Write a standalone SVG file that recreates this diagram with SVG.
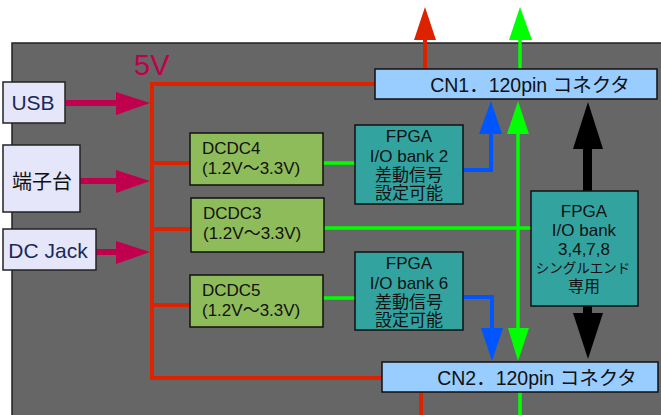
<svg xmlns="http://www.w3.org/2000/svg" width="661" height="415" viewBox="0 0 661 415">
<defs>
<style>
.t{font-family:"Liberation Sans","Noto Sans CJK JP",sans-serif;fill:#111}
.src{fill:#e6e6fa;stroke:#222;stroke-width:1.5}
.dc{fill:#8fbc5a;stroke:#111;stroke-width:1.5}
.fp{fill:#33a3a0;stroke:#111;stroke-width:1.5}
.cn{fill:#99ccff;stroke:#111;stroke-width:1.5}
.red{stroke:#dd2200;stroke-width:4;fill:none}
.grn{stroke:#00ff00;stroke-width:3.5;fill:none}
.blu{stroke:#0055ff;stroke-width:4;fill:none}
</style>
</defs>
<rect x="0" y="0" width="661" height="415" fill="#ffffff"/>
<rect x="12" y="43" width="652" height="375" fill="#666666" stroke="#222" stroke-width="1.5"/>
<text x="134" y="75" class="t" style="fill:#c0004c;font-size:29px">5V</text>
<g id="connectors">
<polyline class="red" points="375,84 152,84 152,378 382,378"/>
<line class="red" x1="152" y1="163" x2="190" y2="163"/>
<line class="red" x1="152" y1="229" x2="191" y2="229"/>
<line class="red" x1="152" y1="305" x2="190" y2="305"/>
<line class="red" x1="425" y1="69" x2="425" y2="38"/>
<polygon points="414,40 436,40 425,7" fill="#dd2200"/>
<line class="red" x1="421" y1="392" x2="421" y2="415"/>
<g fill="#c0004c">
<rect x="66" y="100" width="52" height="6"/>
<polygon points="116,92 150,103 116,115"/>
<rect x="80" y="178" width="38" height="6"/>
<polygon points="116,170 150,181 116,193"/>
<rect x="96" y="249" width="22" height="6"/>
<polygon points="116,241 150,252 116,264"/>
</g>
<line class="grn" x1="520" y1="38" x2="520" y2="69"/>
<polygon points="509,40 532,40 520,7" fill="#00ff00"/>
<line class="grn" x1="518" y1="132" x2="518" y2="330"/>
<polygon points="507,134 529,134 518,101" fill="#00ff00"/>
<polygon points="508,328 529,328 518,361" fill="#00ff00"/>
<line class="grn" x1="520" y1="392" x2="520" y2="415"/>
<line class="grn" x1="323" y1="163" x2="355" y2="163"/>
<line class="grn" x1="324" y1="228" x2="531" y2="228"/>
<line class="grn" x1="323" y1="298" x2="355" y2="298"/>
<polyline class="blu" points="463,170 491,170 491,132"/>
<polygon points="479,134 502,134 491,101" fill="#0055ff"/>
<polyline class="blu" points="463,297 492,297 492,330"/>
<polygon points="481,328 503,328 492,361" fill="#0055ff"/>
<rect x="583" y="146" width="9" height="45" fill="#000"/>
<polygon points="573,149 603,149 588,102" fill="#000"/>
<rect x="583" y="306" width="9" height="10" fill="#000"/>
<polygon points="573,313 603,313 588,359" fill="#000"/>
</g>
<g id="usb">
<rect x="3" y="82" width="62" height="41" class="src"/>
<text x="33" y="110" class="t" text-anchor="middle" style="font-size:21px;fill:#1a2a5a">USB</text>
</g>
<g id="terminal">
<rect x="3" y="145" width="77" height="67" class="src"/>
<text x="42" y="189" class="t" text-anchor="middle" style="font-size:20px">端子台</text>
</g>
<g id="dcjack">
<rect x="3" y="229" width="93" height="41" class="src"/>
<text x="48" y="258" class="t" text-anchor="middle" style="font-size:21px;fill:#1a2a5a">DC Jack</text>
</g>
<g id="dcdc4">
<rect x="190" y="133" width="133" height="52" class="dc"/>
<text x="202" y="154" class="t" style="font-size:17px">DCDC4</text>
<text x="202" y="174" class="t" style="font-size:17px">(1.2V～3.3V)</text>
</g>
<g id="dcdc3">
<rect x="191" y="198" width="133" height="54" class="dc"/>
<text x="203" y="219" class="t" style="font-size:17px">DCDC3</text>
<text x="203" y="239" class="t" style="font-size:17px">(1.2V～3.3V)</text>
</g>
<g id="dcdc5">
<rect x="190" y="275" width="133" height="52" class="dc"/>
<text x="202" y="296" class="t" style="font-size:17px">DCDC5</text>
<text x="202" y="316" class="t" style="font-size:17px">(1.2V～3.3V)</text>
</g>
<g id="fpga2">
<rect x="355" y="125" width="108" height="79" class="fp"/>
<g class="t" text-anchor="middle" style="font-size:17px">
<text x="409" y="142">FPGA</text>
<text x="409" y="162">I/O bank 2</text>
<text x="409" y="181">差動信号</text>
<text x="409" y="199">設定可能</text>
</g>
</g>
<g id="fpga6">
<rect x="355" y="252" width="108" height="78" class="fp"/>
<g class="t" text-anchor="middle" style="font-size:17px">
<text x="409" y="269">FPGA</text>
<text x="409" y="289">I/O bank 6</text>
<text x="409" y="308">差動信号</text>
<text x="409" y="326">設定可能</text>
</g>
</g>
<g id="fpga3478">
<rect x="531" y="191" width="107" height="115" class="fp"/>
<g class="t" text-anchor="middle" style="font-size:17px">
<text x="584" y="217">FPGA</text>
<text x="584" y="236">I/O bank</text>
<text x="584" y="255">3,4,7,8</text>
<text x="583" y="273" style="font-size:13.5px">シングルエンド</text>
<text x="584" y="292" style="font-size:16px">専用</text>
</g>
</g>
<g id="cn1">
<rect x="375" y="69" width="282" height="30" class="cn"/>
<text x="530" y="92" class="t" text-anchor="middle" style="font-size:19.5px">CN1．120pin コネクタ</text>
</g>
<g id="cn2">
<rect x="382" y="362" width="276" height="30" class="cn"/>
<text x="537" y="385" class="t" text-anchor="middle" style="font-size:19.5px">CN2．120pin コネクタ</text>
</g>
</svg>
